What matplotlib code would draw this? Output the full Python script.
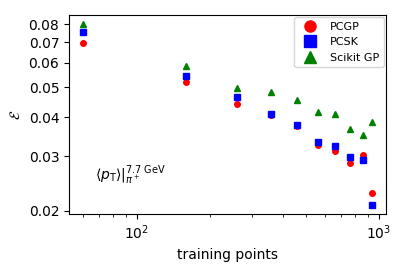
import matplotlib
matplotlib.use('Agg')
import matplotlib.pyplot as plt

trainingPoints = [60, 160, 260, 360, 460, 560, 660, 760, 860, 940]
pcgpError = [0.0695, 0.0520, 0.0443, 0.0407, 0.0376, 0.0325, 0.0311, 0.0285, 0.0303, 0.0228]
pcskError = [0.0754, 0.0543, 0.0466, 0.0411, 0.0378, 0.0333, 0.0324, 0.0297, 0.0292, 0.0208]
scikitError = [0.0803, 0.0587, 0.0496, 0.0483, 0.0456, 0.0418, 0.0411, 0.0368, 0.0352, 0.0387]

fig = plt.figure(figsize=(4.07, 2.71), dpi=100)
ax = fig.add_axes([0.1695, 0.21, 0.7785, 0.735])

ax.plot(trainingPoints, pcgpError, 'o', color='red', markersize=4, label='PCGP')
ax.plot(trainingPoints, pcskError, 's', color='blue', markersize=4, label='PCSK')
ax.plot(trainingPoints, scikitError, '^', color='green', markersize=4, label='Scikit GP')

ax.set_xscale('log')
ax.set_yscale('log')
ax.set_xlim(52.4, 1069)
ax.set_ylim(0.0195, 0.0857)

yTicks = [0.02, 0.03, 0.04, 0.05, 0.06, 0.07, 0.08]
ax.set_yticks(yTicks)
ax.set_yticklabels([str(t) for t in yTicks])
ax.yaxis.set_minor_locator(matplotlib.ticker.NullLocator())
ax.tick_params(labelsize=10)

ax.set_xlabel('training points', fontsize=10)
ax.set_ylabel(r'$\mathcal{E}$', fontsize=10)

ax.text(0.082, 0.196, r'$\langle p_{\mathrm{T}}\rangle|_{\pi^+}^{7.7\ \mathrm{GeV}}$',
        transform=ax.transAxes, fontsize=10, va='center')

ax.legend(loc='upper right', fontsize=8, markerscale=2, borderaxespad=0.2)

fig.savefig('out.png', dpi=100)
